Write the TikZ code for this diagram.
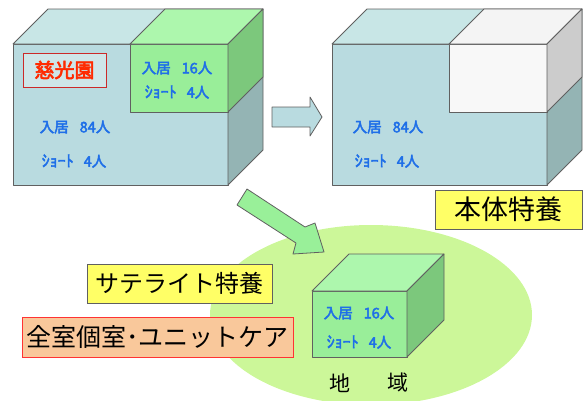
\documentclass[tikz,border=0pt]{standalone}
\usepackage{fontspec}
\setmainfont{Noto Sans CJK JP}
\newfontfamily\boldjp[FakeBold=3]{Noto Sans CJK JP}
\usetikzlibrary{calc}
\definecolor{bfront}{HTML}{B9DBE0}
\definecolor{btop}{HTML}{C8E6E6}
\definecolor{bside}{HTML}{94B4B4}
\definecolor{gfront}{HTML}{99EE99}
\definecolor{gtop}{HTML}{ADF7AD}
\definecolor{gside}{HTML}{7CC87C}
\definecolor{wfront}{HTML}{F8F8F8}
\definecolor{wtop}{HTML}{F4F4F4}
\definecolor{wside}{HTML}{CCCCCC}
\definecolor{area}{HTML}{CCF799}
\definecolor{yel}{HTML}{FFFF66}
\definecolor{ora}{HTML}{F9C89B}
\definecolor{redb}{HTML}{FF3333}
\definecolor{bluet}{HTML}{1F6FE8}
\definecolor{redt}{HTML}{FF2A00}
\definecolor{edge}{HTML}{606060}
\definecolor{garrow}{HTML}{99F099}
\tikzset{
  face/.style={draw=edge, line width=0.8pt, line join=round},
  bluetxt/.style={text=bluet, font=\fontsize{14.5}{14.5}\selectfont\boldjp, inner sep=0pt},
  bigtxt/.style={font=\fontsize{25}{25}\selectfont, inner sep=0pt},
}
\newcommand{\nyu}[1]{入居\hspace{11pt}#1人}
\newcommand{\sho}[1]{{\fontsize{16}{16}\selectfont ｼｮｰﾄ}\hspace{10pt}#1人}
\begin{document}
\begin{tikzpicture}[x=1pt,y=-1pt]
\useasboundingbox (0,0) rectangle (587,400);
% ground ellipse
\fill[area] (371,315) ellipse [x radius=161, y radius=90];
% ---- left box (current)
\fill[face, fill=bfront] (13,44) rectangle (228,185);
\fill[face, fill=btop] (13,44) -- (48,9) -- (263,9) -- (228,44) -- cycle;
\fill[face, fill=bside] (228,44) -- (263,9) -- (263,150) -- (228,185) -- cycle;
\fill[face, fill=gfront] (130,44) rectangle (228,112);
\fill[face, fill=gtop] (130,44) -- (165,9) -- (263,9) -- (228,44) -- cycle;
\fill[face, fill=gside] (228,44) -- (263,9) -- (263,77) -- (228,112) -- cycle;
\node[draw=redb!80!black, fill=bfront!70!white, line width=0.6pt, minimum width=83pt, minimum height=34pt, inner sep=0pt,
  text=redt, font=\fontsize{20}{20}\selectfont\boldjp] (jiko) at (64.5,70) {慈光園};
\node[bluetxt] (l1) at (75,127) {\nyu{84}};
\node[bluetxt] (l2) at (74,161) {\sho{4}};
\node[bluetxt] (g1) at (177,68) {\nyu{16}};
\node[bluetxt] (g2) at (177,92) {\sho{4}};
% ---- right box (main)
\fill[face, fill=bfront] (332,44) rectangle (547,185);
\fill[face, fill=btop] (332,44) -- (367,9) -- (582,9) -- (547,44) -- cycle;
\fill[face, fill=bside] (547,44) -- (582,9) -- (582,150) -- (547,185) -- cycle;
\fill[face, fill=wfront] (449,44) rectangle (547,112);
\fill[face, fill=wtop] (449,44) -- (484,9) -- (582,9) -- (547,44) -- cycle;
\fill[face, fill=wside] (547,44) -- (582,9) -- (582,77) -- (547,112) -- cycle;
\node[bluetxt] (r1) at (388,127) {\nyu{84}};
\node[bluetxt] (r2) at (387,161) {\sho{4}};
\node[draw=edge, fill=yel, line width=0.8pt, minimum width=147pt, minimum height=39pt, inner sep=0pt,
  font=\fontsize{27}{27}\selectfont] (honbu) at (508.5,209.5) {本体特養};
% ---- horizontal arrow
\fill[face, fill=bfront] (272,107) -- (310,107) -- (310,97) -- (322,117) -- (310,136) -- (310,127) -- (272,127) -- cycle;
% ---- diagonal arrow
\fill[face, fill=garrow] (247,189) -- (305,227) -- (315,223) -- (324,252) -- (293,254) -- (296,243) -- (237,205) -- cycle;
% ---- small cube (satellite)
\fill[face, fill=gfront] (312,291) rectangle (407,357);
\fill[face, fill=gtop] (312,291) -- (349,254) -- (444,254) -- (407,291) -- cycle;
\fill[face, fill=gside] (407,291) -- (444,254) -- (444,320) -- (407,357) -- cycle;
\node[bluetxt] (s1) at (359,313) {\nyu{16}};
\node[bluetxt] (s2) at (359,342) {\sho{4}};
\node[font=\fontsize{21}{21}\selectfont, inner sep=0pt] (chi) at (340,383) {地};
\node[font=\fontsize{21}{21}\selectfont, inner sep=0pt] (iki) at (398,383) {域};
% ---- labels
\node[draw=edge, fill=yel, line width=0.8pt, minimum width=185pt, minimum height=39pt, inner sep=0pt, font=\fontsize{24}{24}\selectfont] (sat) at (179.5,283.5) {サテライト特養};
\node[draw=redb, fill=ora, line width=1pt, minimum width=271pt, minimum height=40pt, inner sep=0pt, bigtxt] (unit) at (157.5,337) {全室個室･ユニットケア};
\end{tikzpicture}
\end{document}
